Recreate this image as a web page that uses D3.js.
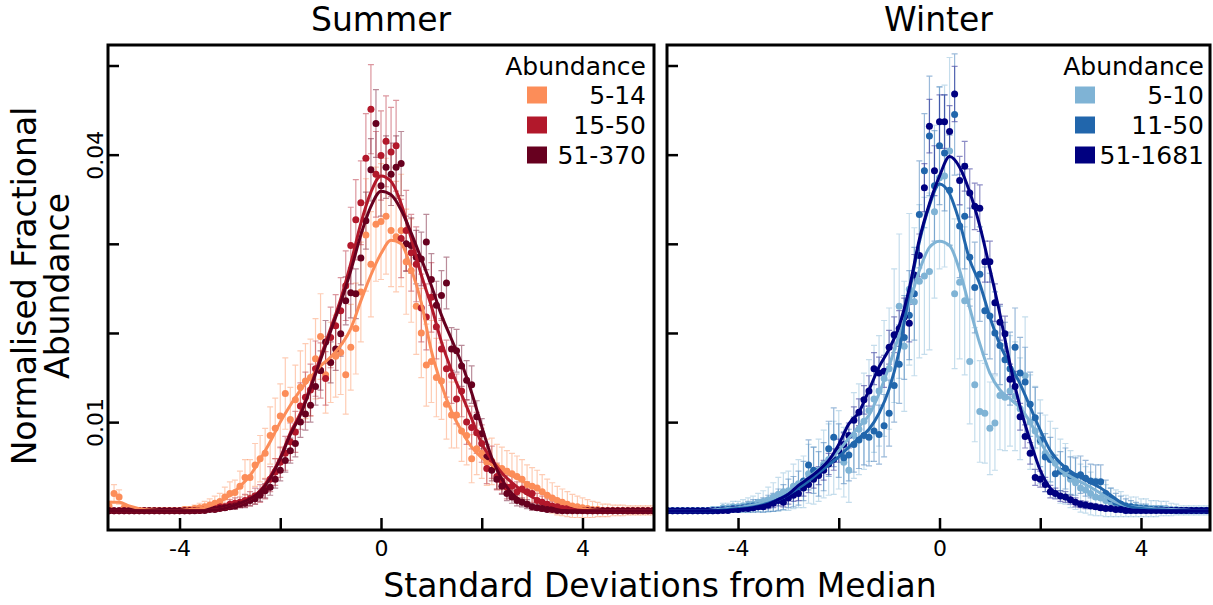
<!DOCTYPE html>
<html><head><meta charset="utf-8">
<script src="https://cdn.jsdelivr.net/npm/d3@7"></script>
<style>body{margin:0;background:#fff} svg{display:block} text{font-family:"DejaVu Sans",sans-serif;fill:#000}</style>
</head><body><svg id="c" width="1213" height="605"></svg>
<script>
// ---------- data ----------
const UNIT = 0.001;            // values below are in units of 1e-3
const binStart = -5.4, binStep = 0.1;   // point bins (SD from median)
const lineStart = -5.4, lineStep = 0.2; // smoothed line samples
const yTicks = [0.01, 0.02, 0.03, 0.04, 0.05];
const yTickLabels = ["0.01", "", "", "0.04", ""];
const xTicks = [-4, -2, 0, 2, 4];
const xTickLabels = ["-4", "", "0", "", "4"];
const panelTitles = ["Summer", "Winter"];
const summerCats = ["5-14", "15-50", "51-370"];
const winterCats = ["5-10", "11-50", "51-1681"];
const summerColors = ["#fc8d59", "#b2182b", "#67001f"];
const winterColors = ["#7fb3d5", "#2166ac", "#000080"];

const summer_5_14 = [
 0.6,2.0,1.6,0.4,0.2,0.1,0.1,0.1,0.1,0.1,
 0.1,0.1,0.1,0.1,0.1,0.2,0.2,0.3,0.4,0.5,
 0.7,0.9,1.1,1.6,2.0,2.1,2.8,3.8,3.8,5.2,
 5.9,6.5,8.5,9.3,10.7,13.2,10.3,12.5,13.9,14.6,
 15.0,17.1,19.6,15.3,16.7,17.4,17.8,15.3,18.4,20.5,
 24.6,31.0,27.7,32.2,32.5,33.1,31.5,30.8,31.5,28.0,
 27.0,23.0,20.0,16.4,16.8,15.0,14.6,12.0,10.8,10.8,
 9.0,8.5,5.9,7.0,6.5,5.5,5.6,5.0,4.8,4.5,
 4.2,3.9,3.6,3.0,2.8,2.6,2.2,1.8,1.5,1.2,
 1.0,0.8,0.6,0.5,0.4,0.3,0.2,0.2,0.1,0.1,
 0.1,0.1,0.1,0.1,0.1,0.1,0.1,0.1,0.1];
const summer_15_50 = [
 0.05,0.05,0.05,0.05,0.05,0.05,0.05,0.05,0.05,0.05,
 0.05,0.05,0.05,0.05,0.05,0.05,0.05,0.1,0.1,0.2,
 0.3,0.3,0.5,0.5,0.8,0.9,1.0,1.2,1.4,1.7,
 2.0,2.5,3.6,4.4,5.5,6.5,7.8,8.9,11.8,12.8,
 13.6,16.0,15.8,14.9,19.5,20.8,22.5,25.3,29.8,32.7,
 34.6,39.6,45.1,37.8,39.9,41.5,40.3,41.0,30.6,31.5,
 29.0,27.7,22.8,21.8,24.0,20.7,18.2,16.0,15.2,12.6,
 13.5,10.0,9.4,8.8,7.6,4.8,5.5,3.9,3.4,2.7,
 2.8,2.2,2.5,2.2,2.0,1.2,1.0,0.8,0.6,0.5,
 0.3,0.3,0.2,0.15,0.1,0.05,0.05,0.05,0.05,0.05,
 0.05,0.05,0.05,0.05,0.05,0.05,0.05,0.05,0.05];
const summer_51_370 = [
 0.05,0.05,0.05,0.05,0.05,0.05,0.05,0.05,0.05,0.05,
 0.05,0.05,0.05,0.05,0.05,0.05,0.05,0.05,0.1,0.1,
 0.2,0.2,0.3,0.4,0.5,0.6,0.8,0.9,1.2,1.4,
 1.8,2.3,2.7,3.6,4.6,5.7,6.8,7.6,10.0,10.9,
 11.9,14.0,15.8,19.0,16.7,18.2,19.9,23.6,24.5,24.4,
 28.4,32.6,38.3,43.5,36.5,38.6,37.8,38.6,39.0,30.0,
 29.8,28.5,28.3,30.2,26.0,23.1,24.2,25.6,18.2,18.0,
 16.3,14.7,14.2,10.6,8.7,6.1,4.6,3.6,2.8,2.0,
 1.6,1.2,1.0,0.8,0.5,0.4,0.3,0.2,0.2,0.1,
 0.05,0.05,0.05,0.05,0.05,0.05,0.05,0.05,0.05,0.05,
 0.05,0.05,0.05,0.05,0.05,0.05,0.05,0.05,0.05];

const summerErr_5_14 = [
 0.5,1.0,0.8,0.4,0.3,0.2,0.2,0.2,0.2,0.2,
 0.2,0.2,0.2,0.2,0.2,0.3,0.3,0.4,0.5,0.6,
 0.7,0.8,0.9,1.1,1.3,1.4,1.7,2.0,2.0,2.4,
 2.6,2.8,3.2,3.4,3.6,4.0,3.6,3.9,4.1,4.2,
 4.3,4.5,4.8,4.3,4.5,4.6,4.7,4.4,4.8,5.1,
 5.6,6.3,5.9,6.4,6.5,6.5,6.3,6.2,6.3,5.9,
 5.8,5.4,5.0,4.6,4.6,4.4,4.3,3.9,3.7,3.7,
 3.4,3.3,2.7,2.9,2.8,2.6,2.6,2.5,2.4,2.3,
 2.3,2.3,2.2,2.2,2.1,2.0,1.9,1.8,1.7,1.6,
 1.5,1.4,1.3,1.2,1.1,1.0,0.9,0.8,0.7,0.7,
 0.6,0.6,0.6,0.5,0.5,0.5,0.5,0.5,0.5];
const summerErr_15_50 = [
 0.1,0.1,0.1,0.1,0.1,0.1,0.1,0.1,0.1,0.1,
 0.1,0.1,0.1,0.1,0.1,0.1,0.1,0.2,0.2,0.3,
 0.3,0.3,0.4,0.4,0.5,0.6,0.6,0.7,0.8,0.9,
 1.0,1.1,1.4,1.5,1.7,1.9,2.1,2.3,2.6,2.8,
 2.9,3.1,3.1,3.0,3.4,3.5,3.7,3.9,4.3,4.5,
 4.7,5.0,5.0,4.8,5.0,5.1,5.0,5.1,4.4,4.5,
 4.3,4.2,3.8,3.7,3.9,3.6,3.4,3.2,3.1,2.8,
 2.9,2.5,2.4,2.3,2.1,1.7,1.8,1.5,1.4,1.3,
 1.3,1.1,1.2,1.1,1.0,0.8,0.7,0.6,0.5,0.5,
 0.4,0.3,0.3,0.2,0.2,0.1,0.1,0.1,0.1,0.1,
 0.1,0.1,0.1,0.1,0.1,0.1,0.1,0.1,0.1];
const summerErr_51_370 = [
 0.1,0.1,0.1,0.1,0.1,0.1,0.1,0.1,0.1,0.1,
 0.1,0.1,0.1,0.1,0.1,0.1,0.1,0.1,0.1,0.1,
 0.2,0.2,0.2,0.3,0.3,0.4,0.4,0.5,0.6,0.6,
 0.7,0.8,0.9,1.0,1.2,1.3,1.4,1.5,1.7,1.8,
 1.9,2.1,2.2,2.4,2.3,2.4,2.5,2.7,2.8,2.8,
 3.0,3.2,3.5,3.8,3.4,3.5,3.5,3.5,3.6,3.1,
 3.1,3.0,3.0,3.1,2.9,2.7,2.8,2.9,2.4,2.4,
 2.3,2.2,2.1,1.8,1.7,1.4,1.2,1.1,0.9,0.8,
 0.7,0.6,0.5,0.5,0.4,0.3,0.3,0.2,0.2,0.1,
 0.1,0.1,0.1,0.1,0.1,0.1,0.1,0.1,0.1,0.1,
 0.1,0.1,0.1,0.1,0.1,0.1,0.1,0.1,0.1];

const summerLine_5_14 = [
 1.0,1.0,0.6,0.3,0.15,0.1,0.1,0.1,0.2,0.3,
 0.6,1.1,1.8,2.8,4.0,5.8,7.8,10.0,11.9,13.6,
 15.0,16.3,17.3,18.6,20.5,23.6,26.5,28.9,30.4,30.0,
 27.2,23.4,18.0,14.2,11.2,9.0,7.2,6.0,5.2,4.6,
 4.0,3.4,2.8,2.2,1.6,1.1,0.6,0.3,0.15,0.1,
 0.1,0.1,0.1,0.1,0.1];
const summerLine_15_50 = [
 0.05,0.05,0.05,0.05,0.05,0.05,0.05,0.05,0.05,0.05,
 0.1,0.2,0.5,0.9,1.4,2.3,3.9,6.0,8.8,11.0,
 14.0,17.3,20.5,23.8,27.8,32.3,35.8,37.6,37.0,34.5,
 30.6,26.5,23.0,19.0,15.8,13.1,10.4,7.6,5.8,4.3,
 3.2,2.3,1.6,1.1,0.7,0.4,0.2,0.1,0.05,0.05,
 0.05,0.05,0.05,0.05,0.05];
const summerLine_51_370 = [
 0.05,0.05,0.05,0.05,0.05,0.05,0.05,0.05,0.05,0.05,
 0.1,0.2,0.5,0.9,1.4,2.2,3.7,5.9,8.6,10.8,
 13.8,17.0,20.2,23.4,27.0,31.0,34.2,35.9,35.5,33.8,
 31.2,28.3,25.3,22.0,19.3,16.6,13.3,9.5,6.0,3.6,
 2.0,1.1,0.6,0.3,0.15,0.1,0.05,0.05,0.05,0.05,
 0.05,0.05,0.05,0.05,0.05];

const winter_5_10 = [
 0.1,0.1,0.1,0.1,0.1,0.1,0.1,0.1,0.1,0.2,
 0.2,0.4,0.4,0.5,0.5,0.6,0.7,0.8,1.0,1.1,
 1.3,1.6,1.9,2.2,2.3,2.8,3.1,3.3,4.2,4.0,
 4.6,5.3,5.8,6.0,6.9,5.5,4.6,8.5,9.2,10.1,
 11.3,12.6,13.5,14.9,16.0,19.7,23.0,18.5,24.9,23.5,
 25.8,26.4,26.9,33.6,37.4,37.6,40.4,24.4,25.7,23.6,
 16.8,14.2,11.2,11.0,9.3,9.9,13.0,12.8,13.5,12.9,
 11.5,15.2,10.0,9.0,7.8,6.5,6.0,5.4,4.5,4.2,
 3.6,3.2,2.6,2.4,2.0,1.6,1.5,1.2,1.0,0.9,
 0.8,0.6,0.5,0.5,0.4,0.4,0.3,0.3,0.3,0.3,
 0.2,0.2,0.1,0.1,0.1,0.1,0.1,0.1,0.1];
const winter_11_50 = [
 0.05,0.05,0.05,0.05,0.05,0.05,0.05,0.05,0.05,0.05,
 0.1,0.2,0.2,0.3,0.3,0.4,0.5,0.6,0.6,0.7,
 0.9,1.0,1.3,1.6,2.0,2.2,2.6,3.4,5.2,4.6,
 4.2,5.0,7.0,8.3,6.8,6.0,6.3,7.5,8.0,8.5,
 8.3,9.0,8.6,9.6,11.0,14.1,16.5,19.5,22.0,24.4,
 33.3,38.2,42.1,36.5,41.0,40.2,36.0,44.5,32.0,33.1,
 28.5,25.1,26.6,22.5,21.9,20.0,18.6,17.0,16.0,18.4,
 15.5,14.5,12.0,10.5,8.0,6.1,5.8,4.2,4.5,4.8,
 4.0,3.9,4.1,3.7,3.4,3.3,3.3,2.0,1.4,1.0,
 0.8,0.6,0.5,0.4,0.3,0.3,0.2,0.2,0.2,0.1,
 0.1,0.1,0.1,0.1,0.1,0.1,0.1,0.1,0.1];
const winter_51_1681 = [
 0.05,0.05,0.05,0.05,0.05,0.05,0.05,0.05,0.05,0.05,
 0.05,0.1,0.1,0.2,0.2,0.3,0.3,0.4,0.5,0.5,
 0.7,0.9,1.2,1.0,1.5,1.8,2.0,2.6,3.0,3.6,
 4.0,4.6,5.3,5.8,6.8,7.5,8.5,10.2,11.1,12.5,
 13.5,16.0,15.5,15.7,18.4,19.8,20.5,21.8,21.1,26.5,
 28.7,36.3,43.2,38.2,43.7,43.7,42.6,46.8,37.1,38.7,
 35.7,34.2,34.0,28.0,28.0,23.4,21.2,19.9,14.8,14.0,
 10.6,8.4,6.5,3.8,3.6,3.0,2.2,2.0,1.7,1.6,
 1.3,1.0,0.8,0.7,0.6,0.5,0.4,0.3,0.3,0.2,
 0.2,0.1,0.1,0.1,0.1,0.1,0.1,0.1,0.1,0.1,
 0.1,0.1,0.1,0.1,0.1,0.1,0.1,0.1,0.1];

const winterErr_5_10 = [
 0.2,0.2,0.2,0.2,0.2,0.2,0.2,0.2,0.2,0.3,
 0.3,0.5,0.5,0.6,0.6,0.7,0.8,0.9,1.0,1.2,
 1.4,1.6,1.9,2.1,2.2,2.5,2.7,2.9,3.3,3.2,
 3.5,3.8,4.0,4.1,4.4,3.9,3.6,4.8,5.1,5.4,
 5.7,6.0,6.2,6.5,6.8,7.5,8.1,7.3,8.5,8.3,
 8.6,8.8,8.8,9.7,10.2,10.2,10.5,8.4,8.6,8.3,
 7.0,6.4,5.7,5.6,5.2,5.3,6.1,6.0,6.2,6.1,
 5.7,6.6,5.3,5.0,4.7,4.3,4.1,3.9,3.6,3.4,
 3.2,3.0,2.7,2.6,2.4,2.1,2.0,1.8,1.6,1.5,
 1.4,1.2,1.1,1.1,1.0,1.0,0.9,0.9,0.8,0.8,
 0.7,0.6,0.5,0.5,0.5,0.5,0.5,0.5,0.5];
const winterErr_11_50 = [
 0.1,0.1,0.1,0.1,0.1,0.1,0.1,0.1,0.1,0.1,
 0.2,0.3,0.3,0.4,0.4,0.5,0.6,0.7,0.7,0.8,
 0.9,1.0,1.2,1.4,1.6,1.7,1.9,2.2,2.8,2.6,
 2.5,2.7,3.1,3.3,3.0,2.9,2.9,3.1,3.2,3.3,
 3.2,3.4,3.3,3.5,3.7,4.1,4.4,4.7,5.0,5.2,
 6.0,6.4,6.7,6.2,6.6,6.5,6.2,6.8,5.8,5.9,
 5.5,5.1,5.3,4.9,4.8,4.6,4.4,4.2,4.1,4.4,
 4.0,3.9,3.6,3.4,3.0,2.6,2.5,2.1,2.2,2.3,
 2.1,2.1,2.1,2.0,1.9,1.9,1.9,1.5,1.2,1.0,
 0.9,0.8,0.7,0.6,0.5,0.5,0.4,0.4,0.4,0.3,
 0.3,0.3,0.3,0.3,0.3,0.3,0.3,0.3,0.3];
const winterErr_51_1681 = [
 0.1,0.1,0.1,0.1,0.1,0.1,0.1,0.1,0.1,0.1,
 0.1,0.1,0.1,0.2,0.2,0.2,0.2,0.3,0.3,0.3,
 0.4,0.5,0.6,0.5,0.7,0.7,0.8,0.9,0.9,1.0,
 1.0,1.1,1.2,1.2,1.3,1.3,1.4,1.5,1.5,1.6,
 1.7,1.8,1.8,1.8,1.9,2.0,2.0,2.1,2.1,2.3,
 2.4,2.7,3.0,2.8,3.0,3.0,2.9,3.1,2.7,2.8,
 2.7,2.6,2.6,2.3,2.3,2.1,2.0,2.0,1.7,1.7,
 1.5,1.3,1.2,0.9,0.9,0.8,0.7,0.6,0.6,0.6,
 0.5,0.5,0.4,0.4,0.3,0.3,0.3,0.2,0.2,0.2,
 0.2,0.1,0.1,0.1,0.1,0.1,0.1,0.1,0.1,0.1,
 0.1,0.1,0.1,0.1,0.1,0.1,0.1,0.1,0.1];

const winterLine_5_10 = [
 0.1,0.1,0.1,0.1,0.1,0.2,0.3,0.4,0.6,0.8,
 1.2,1.7,2.3,3.0,3.8,4.7,5.7,6.8,8.2,9.5,
 10.8,13.2,16.3,19.8,23.3,27.0,29.6,30.3,29.8,27.0,
 22.8,18.8,15.5,13.6,12.6,11.6,10.0,7.8,6.0,4.6,
 3.9,3.3,2.7,2.0,1.3,0.8,0.5,0.4,0.3,0.25,
 0.2,0.15,0.1,0.1,0.1];
const winterLine_11_50 = [
 0.05,0.05,0.05,0.05,0.05,0.1,0.2,0.3,0.4,0.6,
 0.9,1.3,1.9,2.6,3.4,4.3,5.2,6.1,7.2,8.2,
 9.2,11.0,13.7,18.0,24.5,30.2,34.3,36.7,35.6,32.4,
 28.2,25.5,21.8,18.7,16.4,14.3,11.7,9.1,6.8,5.4,
 4.5,3.8,3.2,2.6,1.8,1.0,0.5,0.3,0.2,0.15,
 0.1,0.1,0.05,0.05,0.05];
const winterLine_51_1681 = [
 0.05,0.05,0.05,0.05,0.05,0.05,0.1,0.2,0.3,0.5,
 0.8,1.3,1.9,2.9,3.7,4.6,5.7,7.5,9.8,11.1,
 13.6,16.2,18.2,20.8,25.0,30.5,34.5,37.6,39.8,38.6,
 35.8,32.0,27.2,22.1,16.5,11.7,7.9,4.6,2.6,1.8,
 1.2,0.85,0.65,0.5,0.35,0.25,0.15,0.1,0.05,0.05,
 0.05,0.05,0.05,0.05,0.05];

// ---------- drawing ----------
const svg = d3.select("#c");
const TOP = 45, BOTTOM = 530;
const y = d3.scaleLinear().domain([-0.0021, 0.0523]).range([BOTTOM, TOP]);

const panels = [
  { title: panelTitles[0], x: d3.scaleLinear().domain([-5.42, 5.42]).range([108, 654]),
    cats: summerCats, colors: summerColors, showY: true, legendRight: 646, legendSw: 527,
    pts: [summer_5_14, summer_15_50, summer_51_370],
    err: [summerErr_5_14, summerErr_15_50, summerErr_51_370],
    lines: [summerLine_5_14, summerLine_15_50, summerLine_51_370] },
  { title: panelTitles[1], x: d3.scaleLinear().domain([-5.41, 5.37]).range([667, 1210]),
    cats: winterCats, colors: winterColors, showY: false, legendRight: 1204, legendSw: 1075,
    pts: [winter_5_10, winter_11_50, winter_51_1681],
    err: [winterErr_5_10, winterErr_11_50, winterErr_51_1681],
    lines: [winterLine_5_10, winterLine_11_50, winterLine_51_1681] }
];

panels.forEach((p, pi) => {
  const [x0, x1] = p.x.range();
  const clipId = "clip" + pi;
  svg.append("clipPath").attr("id", clipId).append("rect")
    .attr("x", x0).attr("y", TOP).attr("width", x1 - x0).attr("height", BOTTOM - TOP);
  const g = svg.append("g").attr("clip-path", `url(#${clipId})`);

  const seriesData = p.pts.map((arr, s) => arr.map((v, i) => ({
    sd: binStart + i * binStep, v: v * UNIT, e: p.err[s][i] * UNIT })));

  // error bars
  seriesData.forEach((data, s) => {
    const eg = g.append("g").attr("stroke", p.colors[s]).attr("stroke-opacity", 0.45)
      .attr("stroke-width", 1.2).attr("fill", "none");
    eg.selectAll("path").data(data).join("path")
      .attr("d", d => {
        const cx = p.x(d.sd), yt = y(d.v + d.e), yb = y(d.v - d.e);
        return `M${cx},${yt}V${yb}M${cx - 3},${yt}H${cx + 3}M${cx - 3},${yb}H${cx + 3}`;
      });
  });
  // points
  seriesData.forEach((data, s) => {
    g.append("g").attr("fill", p.colors[s]).selectAll("circle").data(data).join("circle")
      .attr("cx", d => p.x(d.sd)).attr("cy", d => y(d.v)).attr("r", 3.5);
  });
  // smoothed lines
  const line = d3.line().x(d => p.x(d.sd)).y(d => y(d.v)).curve(d3.curveMonotoneX);
  p.lines.forEach((arr, s) => {
    const data = arr.map((v, i) => ({ sd: lineStart + i * lineStep, v: v * UNIT }));
    g.append("path").datum(data).attr("d", line).attr("fill", "none")
      .attr("stroke", p.colors[s]).attr("stroke-width", 3).attr("stroke-linejoin", "round");
  });

  // axes (ticks pointing inward)
  const xa = svg.append("g").attr("transform", `translate(0,${BOTTOM})`)
    .call(d3.axisBottom(p.x).tickValues(xTicks).tickSize(-12)
      .tickFormat((d, i) => xTickLabels[i]));
  xa.select(".domain").remove();
  xa.selectAll("line").attr("stroke", "#000").attr("stroke-width", 2.5);
  xa.selectAll("text").attr("y", 10).attr("font-size", 22)
    .attr("font-family", "DejaVu Sans").attr("fill", "#000");

  const ya = svg.append("g").attr("transform", `translate(${x0},0)`)
    .call(d3.axisLeft(y).tickValues(yTicks).tickSize(-11)
      .tickFormat((d, i) => p.showY ? yTickLabels[i] : ""));
  ya.select(".domain").remove();
  ya.selectAll("line").attr("stroke", "#000").attr("stroke-width", 2.5);
  ya.selectAll("text").attr("x", null).attr("dy", null).attr("text-anchor", "middle")
    .attr("transform", "translate(-5,0) rotate(-90)").attr("font-size", 22)
    .attr("font-family", "DejaVu Sans").attr("fill", "#000");

  // frame
  svg.append("rect").attr("x", x0).attr("y", TOP).attr("width", x1 - x0)
    .attr("height", BOTTOM - TOP).attr("fill", "none").attr("stroke", "#000").attr("stroke-width", 3);

  // title
  svg.append("text").attr("x", (x0 + x1) / 2).attr("y", 31).attr("text-anchor", "middle")
    .attr("font-size", 33).text(p.title);

  // legend
  const lg = svg.append("g");
  lg.append("text").attr("x", p.legendRight).attr("y", 74.5).attr("text-anchor", "end")
    .attr("font-size", 25).text("Abundance");
  p.cats.forEach((c, k) => {
    lg.append("rect").attr("x", p.legendSw).attr("y", 86.5 + 30 * k)
      .attr("width", 20).attr("height", 17).attr("fill", p.colors[k]);
    lg.append("text").attr("x", p.legendRight).attr("y", 103.5 + 30 * k)
      .attr("text-anchor", "end").attr("font-size", 25).text(c);
  });
});

// shared axis labels
svg.append("text").attr("x", 660).attr("y", 597).attr("text-anchor", "middle")
  .attr("font-size", 33).text("Standard Deviations from Median");
svg.append("text").attr("transform", "translate(36,286) rotate(-90)")
  .attr("text-anchor", "middle").attr("font-size", 33).text("Normalised Fractional");
svg.append("text").attr("transform", "translate(69,286) rotate(-90)")
  .attr("text-anchor", "middle").attr("font-size", 33).text("Abundance");
</script></body></html>
